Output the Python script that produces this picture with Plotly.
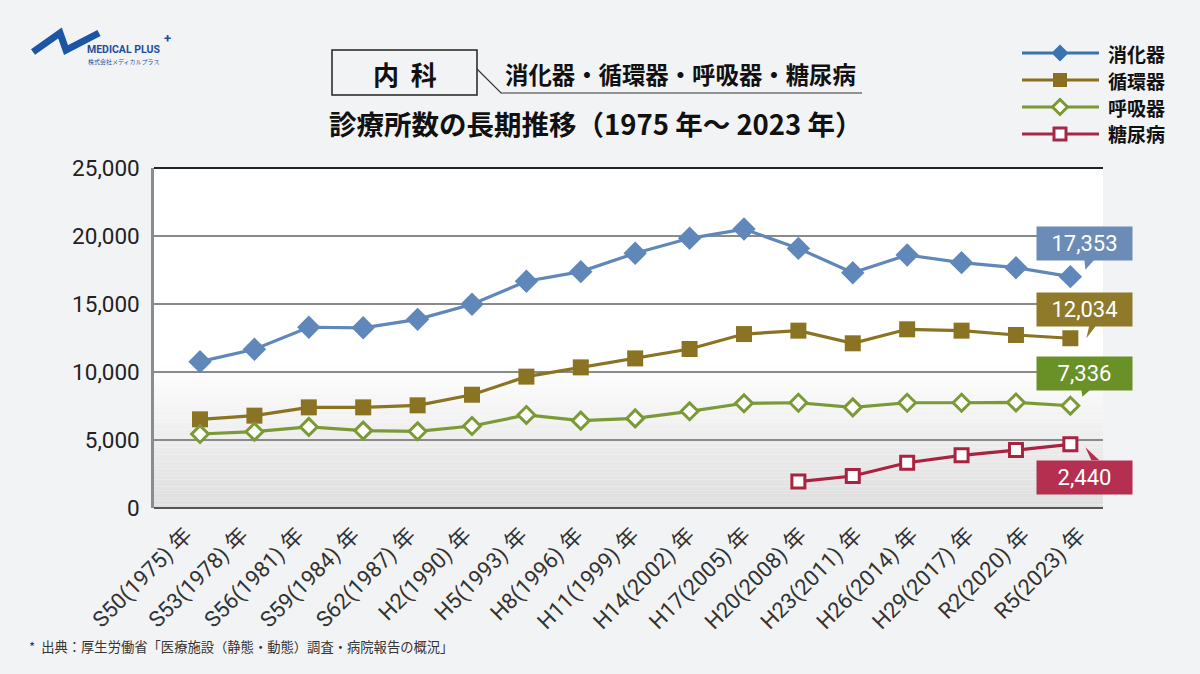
import plotly.graph_objects as go

# ---------------- data ----------------
categories = ["S50(1975) 年", "S53(1978) 年", "S56(1981) 年", "S59(1984) 年", "S62(1987) 年",
              "H2(1990) 年", "H5(1993) 年", "H8(1996) 年", "H11(1999) 年", "H14(2002) 年",
              "H17(2005) 年", "H20(2008) 年", "H23(2011) 年", "H26(2014) 年", "H29(2017) 年",
              "R2(2020) 年", "R5(2023) 年"]
digestive = [10760, 11670, 13290, 13250, 13870, 14980, 16670, 17380, 18730, 19830,
             20510, 19090, 17300, 18600, 18040, 17670, 17010]
circulatory = [6520, 6790, 7400, 7400, 7550, 8330, 9660, 10340, 11000, 11690,
               12790, 13040, 12110, 13140, 13040, 12720, 12480]
respiratory = [5440, 5610, 5960, 5690, 5640, 6030, 6840, 6420, 6590, 7110,
               7700, 7740, 7400, 7740, 7740, 7760, 7520]
diabetes = [None] * 11 + [1940, 2350, 3330, 3870, 4260, 4680]
series_names = ["消化器", "循環器", "呼吸器", "糖尿病"]
callout_labels = ["17,353", "12,034", "7,336", "2,440"]
y_ticks = [0, 5000, 10000, 15000, 20000, 25000]
y_tick_labels = ["0", "5,000", "10,000", "15,000", "20,000", "25,000"]

# ---------------- styles ----------------
W, H = 1200, 674
L, R, T, B = 154, 1103, 168, 508
JP = "Noto Sans CJK JP"
NUM = "Roboto, Noto Sans CJK JP"
line_colors = ["#5f87ba", "#8a7322", "#7a9a35", "#a8233f"]
legend_colors = ["#3b73b1", "#8a7020", "#7a9a30", "#a52848"]
box_colors = ["#6a8cb6", "#8e7a2a", "#6a9128", "#b52f50"]
callout_yshift = [33, 28.6, 32, -32.7]
pointer_paths = ["M 14 17 L 24 17 L 15 7 Z", "M 19 13 L 26 13 L 16 0 Z",
                 "M 11 16 L 20 16 L 12 9 Z", "M 21 -16 L 29 -16 L 15 -3 Z"]


def fx(x):
    return (x - L) / (R - L)


def fy(y):
    return (B - y) / (B - T)


fig = go.Figure()

series = [digestive, circulatory, respiratory, diabetes]
markers = [
    dict(symbol="diamond", size=18, color=line_colors[0]),
    dict(symbol="square", size=16, color=line_colors[1]),
    dict(symbol="diamond", size=13, color="white", line=dict(color=line_colors[2], width=3)),
    dict(symbol="square", size=13, color="white", line=dict(color=line_colors[3], width=3)),
]
for name, vals, col, mk in zip(series_names, series, line_colors, markers):
    fig.add_trace(go.Scatter(x=categories, y=vals, name=name, mode="lines+markers",
                             line=dict(color=col, width=3.2), marker=mk,
                             connectgaps=False, showlegend=False))

# label axis (category labels evenly spaced across the plot width)
fig.add_trace(go.Scatter(x=categories, y=[None] * len(categories), xaxis="x2", yaxis="y",
                         mode="markers", showlegend=False, hoverinfo="skip"))

shapes = []
annotations = []

# gradient plot background (lower part)
n = 40
for i in range(n):
    f0 = 0.42 * i / n
    f1 = 0.42 * (i + 1) / n
    c = int(222 + (255 - 222) * (i + 0.5) / n)
    shapes.append(dict(type="rect", xref="x domain", yref="y domain", x0=0, x1=1, y0=f0, y1=f1,
                       fillcolor=f"rgb({c},{c},{c})", line=dict(width=0), layer="below"))

# top border and bottom axis
shapes.append(dict(type="line", xref="paper", yref="paper", x0=0, x1=1, y0=1, y1=1,
                   line=dict(color="#222222", width=2)))
shapes.append(dict(type="line", xref="paper", yref="paper", x0=0, x1=1, y0=0, y1=0,
                   line=dict(color="#555555", width=2)))

# callouts
for i, (vals, lab) in enumerate(zip(series, callout_labels)):
    annotations.append(dict(x=categories[-1], y=vals[-1], xref="x", yref="y", text=lab,
                            showarrow=False, xshift=14.5, yshift=callout_yshift[i],
                            width=95, height=33, bgcolor=box_colors[i], borderpad=0,
                            font=dict(family=NUM, size=22, color="white"),
                            xanchor="center", yanchor="middle"))
    shapes.append(dict(type="path", xref="x", yref="y", xsizemode="pixel", ysizemode="pixel",
                       xanchor=categories[-1], yanchor=vals[-1], path=pointer_paths[i],
                       fillcolor=box_colors[i], line=dict(width=0), layer="above"))

# title block
shapes.append(dict(type="rect", xref="paper", yref="paper", x0=fx(332), x1=fx(477),
                   y0=fy(95), y1=fy(50), line=dict(color="#222222", width=1.5)))
shapes.append(dict(type="path", xref="paper", yref="paper",
                   path=f"M {fx(477)} {fy(69)} L {fx(501)} {fy(93)} L {fx(862)} {fy(93)}",
                   line=dict(color="#333333", width=1.2)))
annotations.append(dict(xref="paper", yref="paper", x=fx(405), y=fy(73),
                        text="<b>内&nbsp;&nbsp;科</b>",
                        showarrow=False, font=dict(family=JP, size=26, color="#111111"),
                        xanchor="center", yanchor="middle"))
annotations.append(dict(xref="paper", yref="paper", x=fx(503), y=fy(74),
                        text="<b>消化器・循環器・呼吸器・糖尿病</b>", showarrow=False,
                        font=dict(family=JP, size=23.4, color="#111111"),
                        xanchor="left", yanchor="middle"))
annotations.append(dict(xref="paper", yref="paper", x=fx(596), y=fy(123),
                        text="<b>診療所数の長期推移（1975 年～ 2023 年）</b>", showarrow=False,
                        font=dict(family=JP, size=27.5, color="#111111"),
                        xanchor="center", yanchor="middle"))

# custom legend
rows = [53, 80, 107, 134]
for i, name in enumerate(series_names):
    y = rows[i]
    c = legend_colors[i]
    shapes.append(dict(type="line", xref="paper", yref="paper", x0=fx(1022), x1=fx(1099),
                       y0=fy(y), y1=fy(y), line=dict(color=c, width=3)))
    cx = 1060
    if i in (0, 2):
        h = 8.5 if i == 0 else 7.5
        p = (f"M {fx(cx)} {fy(y - h)} L {fx(cx + h)} {fy(y)} L {fx(cx)} {fy(y + h)} "
             f"L {fx(cx - h)} {fy(y)} Z")
        if i == 0:
            shapes.append(dict(type="path", xref="paper", yref="paper", path=p,
                               fillcolor=c, line=dict(width=0)))
        else:
            shapes.append(dict(type="path", xref="paper", yref="paper", path=p,
                               fillcolor="white", line=dict(color=c, width=3)))
    else:
        h = 7 if i == 1 else 6
        if i == 1:
            shapes.append(dict(type="rect", xref="paper", yref="paper", x0=fx(cx - h), x1=fx(cx + h),
                               y0=fy(y + h), y1=fy(y - h), fillcolor=c, line=dict(width=0)))
        else:
            shapes.append(dict(type="rect", xref="paper", yref="paper", x0=fx(cx - h), x1=fx(cx + h),
                               y0=fy(y + h), y1=fy(y - h), fillcolor="white",
                               line=dict(color=c, width=3)))
    annotations.append(dict(xref="paper", yref="paper", x=fx(1106), y=fy(y), text=f"<b>{name}</b>",
                            showarrow=False, font=dict(family=JP, size=19, color="#111111"),
                            xanchor="left", yanchor="middle"))

# logo
shapes.append(dict(type="path", xref="paper", yref="paper",
                   path=(f"M {fx(33)} {fy(52)} L {fx(60)} {fy(33)} L {fx(66)} {fy(50)} "
                         f"L {fx(99)} {fy(33)}"),
                   line=dict(color="#1d55a6", width=7)))
annotations.append(dict(xref="paper", yref="paper", x=fx(85), y=fy(50), text="<b>MEDICAL PLUS</b>",
                        showarrow=False,
                        font=dict(family="Roboto", size=10.5, color="#1d4f9e"),
                        xanchor="left", yanchor="middle"))
annotations.append(dict(xref="paper", yref="paper", x=fx(162), y=fy(38), text="<b>+</b>",
                        showarrow=False, font=dict(family="Roboto", size=13, color="#1d4f9e"),
                        xanchor="left", yanchor="middle"))
annotations.append(dict(xref="paper", yref="paper", x=fx(86), y=fy(61), text="株式会社メディカルプラス",
                        showarrow=False, font=dict(family=JP, size=6, color="#1d4f9e"),
                        xanchor="left", yanchor="middle"))

# footer
annotations.append(dict(xref="paper", yref="paper", x=fx(27), y=fy(646),
                        text="*  出典：厚生労働省「医療施設（静態・動態）調査・病院報告の概況」",
                        showarrow=False, font=dict(family=JP, size=13.3, color="#333333"),
                        xanchor="left", yanchor="middle"))

fig.update_layout(
    width=W, height=H,
    margin=dict(l=L, r=W - R, t=T, b=H - B, autoexpand=False),
    paper_bgcolor="#f2f3f5", plot_bgcolor="white",
    showlegend=False,
    shapes=shapes, annotations=annotations,
    xaxis=dict(type="category", range=[-0.846, 16.6], showgrid=False, zeroline=False,
               showline=False, ticks="", showticklabels=False),
    xaxis2=dict(type="category", categoryarray=categories, categoryorder="array",
                range=[-0.5, len(categories) - 0.5], overlaying="x", side="bottom",
                anchor="y", showgrid=False, zeroline=False, showline=False, ticks="",
                tickangle=-45, ticklabelstandoff=9, ticklabelshift=4,
                tickfont=dict(family=NUM, size=22, color="#333333")),
    yaxis=dict(range=[0, 25000], tickvals=y_ticks, ticktext=y_tick_labels,
               showgrid=True, gridcolor="#8a8a8a", gridwidth=1.5, zeroline=False,
               showline=True, linecolor="#8c8c8c", linewidth=2.5, ticks="",
               ticklabelstandoff=7,
               tickfont=dict(family=NUM, size=22.5, color="#222222")),
)

fig.write_html("out.html", config={"displayModeBar": False},
               post_script="document.body.style.margin='0';document.body.style.overflow='hidden';")
